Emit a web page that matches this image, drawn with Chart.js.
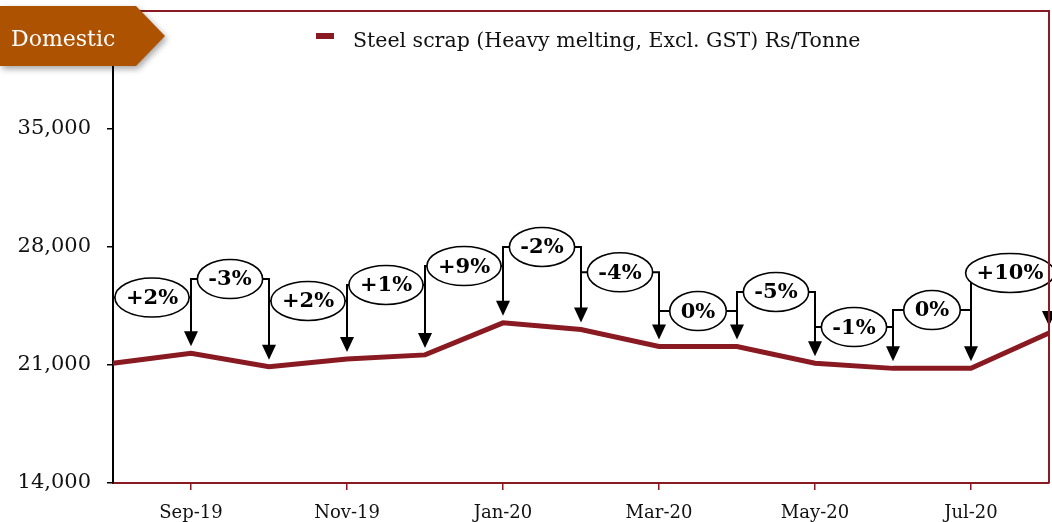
<!DOCTYPE html>
<html><head><meta charset="utf-8">
<script src="https://cdn.jsdelivr.net/npm/chart.js@4.4.1/dist/chart.umd.min.js"></script>
<style>html,body{margin:0;padding:0;background:#fff}#wrap{width:1052px;height:522px;position:relative}</style>
</head><body><div id="wrap"><canvas id="c" width="1052" height="522"></canvas></div>
<script>
const months = ['Aug-19','Sep-19','Oct-19','Nov-19','Dec-19','Jan-20','Feb-20','Mar-20','Apr-20','May-20','Jun-20','Jul-20','Aug-20'];
const scrapPrice = [21100,21700,20900,21350,21600,23500,23100,22100,22100,21100,20800,20800,22900];
const changeLabels = ['+2%','-3%','+2%','+1%','+9%','-2%','-4%','0%','-5%','-1%','0%','+10%'];
const labelLevels = [25000,26100,24800,25750,26870,28000,26500,24200,25330,23250,24260,26460];
const yTicks = [14000,21000,28000,35000];
const seriesName = 'Steel scrap (Heavy melting, Excl. GST) Rs/Tonne';
const tagText = 'Domestic';

const RED = '#8a1a22';
const FONT = "'DejaVu Serif', serif";
Chart.defaults.font.family = FONT;
Chart.defaults.color = '#000';

const annot = {
  id: 'annot',
  afterDatasetsDraw(chart) {
    const ctx = chart.ctx, xs = chart.scales.x, ys = chart.scales.y;
    const px = i => xs.getPixelForValue(i);
    const py = v => ys.getPixelForValue(v);
    const headH = 15, headW = 14, gap = 7;
    ctx.save();
    ctx.strokeStyle = '#000'; ctx.fillStyle = '#000'; ctx.lineWidth = 2;
    for (let i = 1; i < scrapPrice.length; i++) {
      const L = py(labelLevels[i-1]);
      const x0 = px(i-1), x1 = px(i);
      const tip0 = py(scrapPrice[i-1]) - gap - 2;
      const tip1 = py(scrapPrice[i]) - gap;
      ctx.beginPath();
      ctx.moveTo(x0, (i === 1 ? tip0 : tip0 - headH)); ctx.lineTo(x0, L);
      ctx.lineTo(x1, L); ctx.lineTo(x1, tip1 - headH + 2);
      ctx.stroke();
      ctx.beginPath();
      ctx.moveTo(x1, tip1); ctx.lineTo(x1 - headW/2, tip1 - headH); ctx.lineTo(x1 + headW/2, tip1 - headH); ctx.closePath();
      ctx.fill();
    }
    ctx.font = 'bold 21px ' + FONT;
    ctx.textAlign = 'center'; ctx.textBaseline = 'middle';
    for (let i = 1; i < scrapPrice.length; i++) {
      const L = py(labelLevels[i-1]);
      const cx = (px(i-1) + px(i)) / 2;
      const t = changeLabels[i-1];
      const w = ctx.measureText(t).width + 22;
      ctx.beginPath();
      ctx.ellipse(cx, L, w/2, 19.5, 0, 0, Math.PI*2);
      ctx.fillStyle = '#fff'; ctx.fill();
      ctx.lineWidth = 1.6; ctx.strokeStyle = '#000'; ctx.stroke();
      ctx.fillStyle = '#000';
      ctx.fillText(t, cx, L + 1);
    }
    ctx.restore();
  },
  afterDraw(chart) {
    const ctx = chart.ctx, a = chart.chartArea;
    ctx.save();
    ctx.strokeStyle = RED; ctx.lineWidth = 2;
    ctx.beginPath(); ctx.moveTo(a.left, a.top); ctx.lineTo(a.right, a.top); ctx.lineTo(a.right, a.bottom); ctx.stroke();
    const ds = chart.data.datasets[0];
    ctx.fillStyle = RED;
    ctx.fillRect(316, 33, 18, 6);
    ctx.fillStyle = '#111';
    ctx.font = '20.5px ' + FONT;
    ctx.textAlign = 'left'; ctx.textBaseline = 'alphabetic';
    ctx.fillText(ds.label, 353, 47);
    ctx.shadowColor = 'rgba(0,0,0,0.35)'; ctx.shadowBlur = 6; ctx.shadowOffsetX = 2; ctx.shadowOffsetY = 3;
    ctx.fillStyle = '#ad5200';
    ctx.beginPath(); ctx.moveTo(0, 6); ctx.lineTo(136, 6); ctx.lineTo(165, 36); ctx.lineTo(136, 66); ctx.lineTo(0, 66); ctx.closePath(); ctx.fill();
    ctx.shadowColor = 'transparent';
    ctx.fillStyle = '#fff';
    ctx.font = '22px ' + FONT;
    ctx.fillText(tagText, 11, 46);
    ctx.restore();
  }
};

new Chart(document.getElementById('c'), {
  type: 'line',
  data: {
    labels: months,
    datasets: [{
      label: seriesName,
      data: scrapPrice,
      borderColor: RED,
      borderWidth: 5,
      pointRadius: 0,
      tension: 0,
      fill: false
    }]
  },
  options: {
    responsive: false,
    animation: false,
    layout: { padding: { top: 11, right: 3, left: 0, bottom: 0 } },
    plugins: { legend: { display: false }, tooltip: { enabled: false } },
    scales: {
      x: {
        offset: false,
        border: { display: true, color: RED, width: 2 },
        grid: { display: true, drawOnChartArea: false, drawTicks: true, tickLength: 7, color: RED, lineWidth: 1.5 },
        ticks: {
          autoSkip: false, maxRotation: 0, padding: 13,
          font: { size: 18 }, color: '#111',
          callback: (v, i) => (i % 2 === 1 ? months[i] : null)
        },
        afterFit: s => { s.height = 39; s.paddingLeft = 0; s.paddingRight = 0; }
      },
      y: {
        min: 14000, max: 42000,
        border: { display: true, color: '#000', width: 2 },
        grid: { display: true, drawOnChartArea: false, drawTicks: true, tickLength: 6, color: '#000', lineWidth: 1.5 },
        afterBuildTicks: s => { s.ticks = yTicks.map(v => ({ value: v })); },
        ticks: {
          padding: 16, font: { size: 21 }, color: '#111',
          callback: v => Number(v).toLocaleString('en-US')
        },
        afterFit: s => { s.width = 113; s.paddingTop = 0; s.paddingBottom = 0; }
      }
    }
  },
  plugins: [annot]
});
</script></body></html>
